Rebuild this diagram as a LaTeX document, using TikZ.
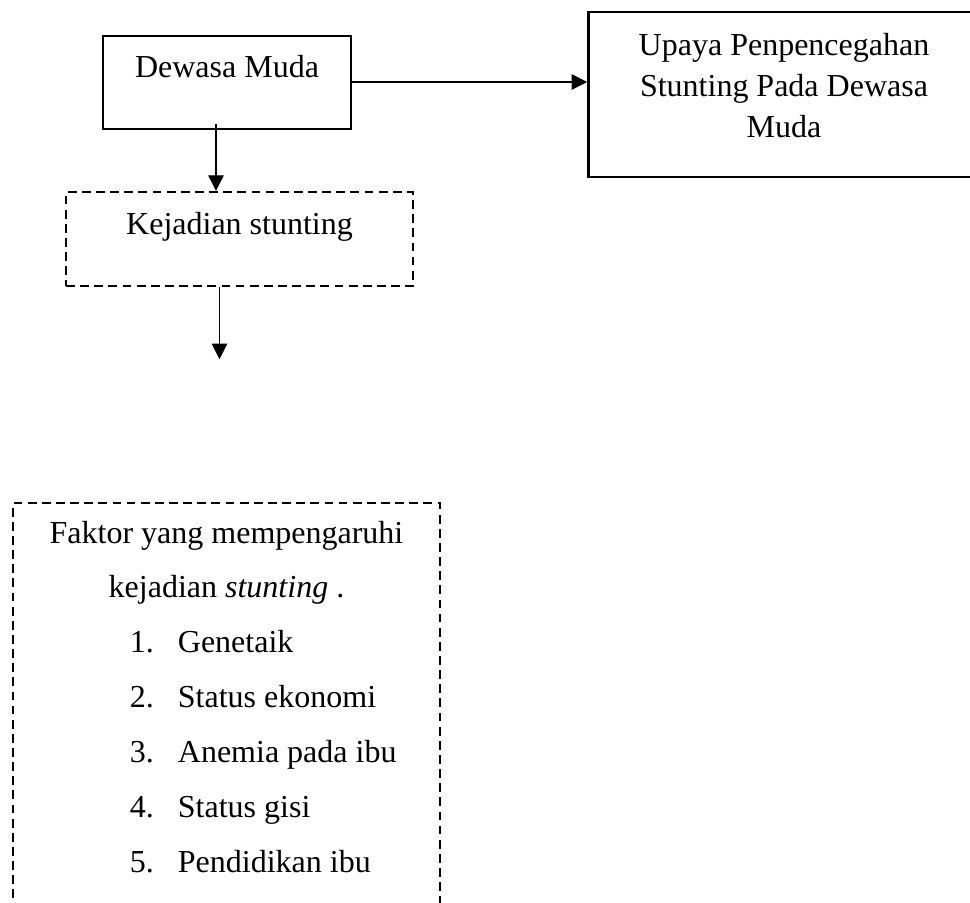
\documentclass[tikz,border=0pt]{standalone}
\usepackage{fontspec}
\setmainfont{Liberation Serif}
\usetikzlibrary{arrows.meta, positioning, calc}

\tikzset{
  solidbox/.style={draw, line width=1pt, inner sep=0pt},
  dashbox/.style={draw, line width=0.9pt, dash pattern=on 3.3pt off 2pt, inner sep=0pt},
  conn/.style={line width=0.4pt, -{Triangle[length=5.8pt,width=5.8pt]}}
}

\begin{document}
\begin{tikzpicture}[x=0.375pt, y=-0.375pt, font=\fontsize{12}{14}\selectfont]
\useasboundingbox (0,0) rectangle (970,902);

% Upper row
\node[solidbox, anchor=base, minimum width=93pt, text height=15.4pt, text depth=19.5pt]
  (dewasa) at (227,77) {Dewasa Muda};
\node[solidbox, anchor=base, minimum width=146.6pt, text height=16.1pt, text depth=45.8pt]
  (upaya) at (784,55)
  {\fontsize{12}{15.4}\selectfont\begin{tabular}[t]{@{}c@{}}
    Upaya Penpencegahan\\ Stunting Pada Dewasa\\ Muda
  \end{tabular}};

% Middle box
\node[dashbox, anchor=base, minimum width=130.1pt, text height=15.75pt, text depth=19.5pt]
  (kejadian) at (239.5,234) {Kejadian stunting};

% Factors
\node[dashbox, anchor=base, minimum width=160.1pt, text height=15pt, text depth=140pt]
  (faktor) at (226.5,543)
  {\fontsize{12}{20.6}\selectfont\begin{tabular}[t]{@{}c@{}}
    Faktor yang mempengaruhi\\
    kejadian \textit{stunting} .\\
    \makebox[72.4pt][l]{\makebox[18pt][l]{1.}Genetaik}\\
    \makebox[72.4pt][l]{\makebox[18pt][l]{2.}Status ekonomi}\\
    \makebox[72.4pt][l]{\makebox[18pt][l]{3.}Anemia pada ibu}\\
    \makebox[72.4pt][l]{\makebox[18pt][l]{4.}Status gisi}\\
    \makebox[72.4pt][l]{\makebox[18pt][l]{5.}Pendidikan ibu}
  \end{tabular}};

% Connectors
\coordinate (d1) at ($(dewasa.south)+(-11,-6)$);
\coordinate (k1) at ($(kejadian.south)+(-20,0)$);
\coordinate (k2) at ($(k1)+(0,72)$);
\draw[conn] (dewasa.east |- 0,82) -- (upaya.west |- 0,82);
\draw[conn] (d1) -- (d1 |- kejadian.north);
\draw[conn] (k1) -- (k2);
\end{tikzpicture}
\end{document}
